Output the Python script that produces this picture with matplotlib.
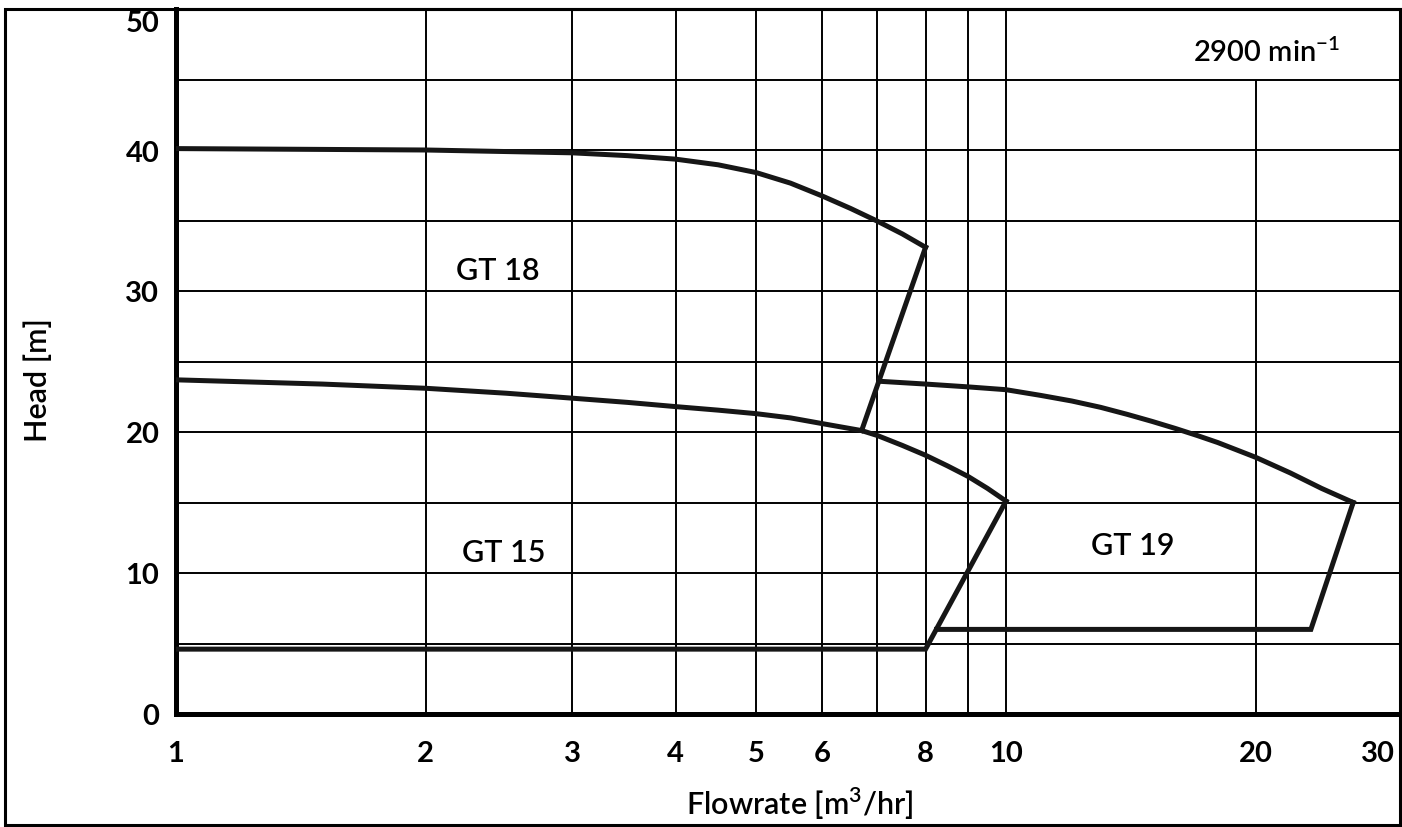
import matplotlib
matplotlib.use("Agg")
import matplotlib.pyplot as plt
from matplotlib.ticker import NullLocator
from matplotlib.patches import Rectangle
from matplotlib.transforms import ScaledTranslation

plt.rcParams['font.family'] = ['Lato', 'DejaVu Sans']
plt.rcParams['mathtext.fontset'] = 'custom'
plt.rcParams['mathtext.rm'] = 'Lato'

# pump curves, flowrate [m3/hr] vs head [m]
gt18_q = [1, 2, 3, 3.5, 4, 4.5, 5, 5.5, 6, 6.5, 7, 7.5, 8]
gt18_h = [40.1, 40.0, 39.8, 39.6, 39.35, 38.95, 38.4, 37.65, 36.75, 35.85, 34.95,
          34.05, 33.1]
gt18_edge_q = [8, 6.7]
gt18_edge_h = [33.1, 20.1]

gt15_q = [1, 1.5, 2, 2.5, 3, 3.5, 4, 4.5, 5, 5.5, 6, 6.7, 7, 7.5, 8, 8.5, 9, 9.5, 10]
gt15_h = [23.7, 23.4, 23.1, 22.75, 22.4, 22.1, 21.8, 21.55, 21.3, 21.0, 20.6, 20.1,
          19.75, 19.05, 18.35, 17.6, 16.85, 16.0, 15.1]
gt15_edge_q = [10, 8.0, 1]
gt15_edge_h = [15.1, 4.6, 4.6]

gt19_q = [7.03, 8, 9, 10, 11, 12, 13, 14, 15, 16, 17, 18, 20, 22, 24, 26.2]
gt19_h = [23.6, 23.4, 23.2, 23.0, 22.6, 22.2, 21.75, 21.25, 20.75, 20.25, 19.75,
          19.25, 18.2, 17.1, 16.0, 15.0]
gt19_edge_q = [26.2, 23.3, 8.25]
gt19_edge_h = [15.0, 6.0, 6.0]

x_ticks = [1, 2, 3, 4, 5, 6, 8, 10, 20, 30]
x_grid = [2, 3, 4, 5, 6, 7, 8, 9, 10]
y_ticks = [0, 10, 20, 30, 40, 50]
y_grid = [5, 10, 15, 20, 25, 30, 35, 40, 45]

labels = ["GT 18", "GT 15", "GT 19"]
label_q = [2.44, 2.48, 14.2]
label_h = [31.5, 11.5, 12.0]

W, H = 1402, 828
fig = plt.figure(figsize=(W / 100, H / 100), dpi=100)
ax = fig.add_axes([176 / W, 113 / H, 1 - 176 / W, (715 - 10) / H])

ax.set_xscale('log')
ax.set_xlim(1, 30)
ax.set_ylim(0, 50)

# grid (the 20 line stops below the speed label)
ax.vlines(x_grid, 0, 50, color='black', lw=1.4, zorder=1)
ax.vlines([20], 0, 45, color='black', lw=1.4, zorder=1)
ax.hlines(y_grid, 1, 30, color='black', lw=1.4, zorder=1)

lw = 3.6
col = '#161616'
for q, h in [(gt18_q, gt18_h), (gt18_edge_q, gt18_edge_h),
             (gt15_q, gt15_h), (gt15_edge_q, gt15_edge_h),
             (gt19_q, gt19_h), (gt19_edge_q, gt19_edge_h)]:
    ax.plot(q, h, color=col, lw=lw, solid_joinstyle='miter', zorder=3)

for name, q, h in zip(labels, label_q, label_h):
    ax.text(q, h, name, ha='center', va='center', fontsize=22,
            fontweight='semibold', zorder=4)

ax.text(20.6, 47.0, r"2900 min$^{\mathregular{-1}}$", ha='center', va='center',
        fontsize=21, fontweight='semibold')

ax.xaxis.set_minor_locator(NullLocator())
ax.set_xticks(x_ticks, labels=[str(v) for v in x_ticks])
ax.set_yticks(y_ticks, labels=[str(v) for v in y_ticks])
ax.tick_params(axis='both', length=0, labelsize=21)
ax.tick_params(axis='x', pad=19)
ax.tick_params(axis='y', pad=12)
for t in ax.get_xticklabels() + ax.get_yticklabels():
    t.set_fontweight('bold')
# keep the edge labels inside the sheet
last = ax.get_xticklabels()[-1]
last.set_transform(last.get_transform() + ScaledTranslation(-0.24, 0, fig.dpi_scale_trans))
top = ax.get_yticklabels()[-1]
top.set_transform(top.get_transform() + ScaledTranslation(0, -0.12, fig.dpi_scale_trans))

ax.set_xlabel(r"Flowrate [m$^{\mathregular{3}}$/hr]", fontsize=22, fontweight='semibold')
ax.xaxis.set_label_coords((800 - 176) / 1226, -0.100)
ax.set_ylabel("Head [m]", fontsize=22, fontweight='semibold')
ax.yaxis.set_label_coords(-0.101, 0.475)

ax.spines['right'].set_visible(False)
ax.spines['left'].set_linewidth(3.6)
ax.spines['bottom'].set_linewidth(3.6)
ax.spines['top'].set_linewidth(2.2)

# outer frame of the sheet
fig.patches.append(Rectangle((5 / W, 2 / H), (1400 - 5) / W, (818 - 2) / H,
                             transform=fig.transFigure, fill=False,
                             edgecolor='black', lw=2.2))

fig.savefig("out.png", dpi=100)
